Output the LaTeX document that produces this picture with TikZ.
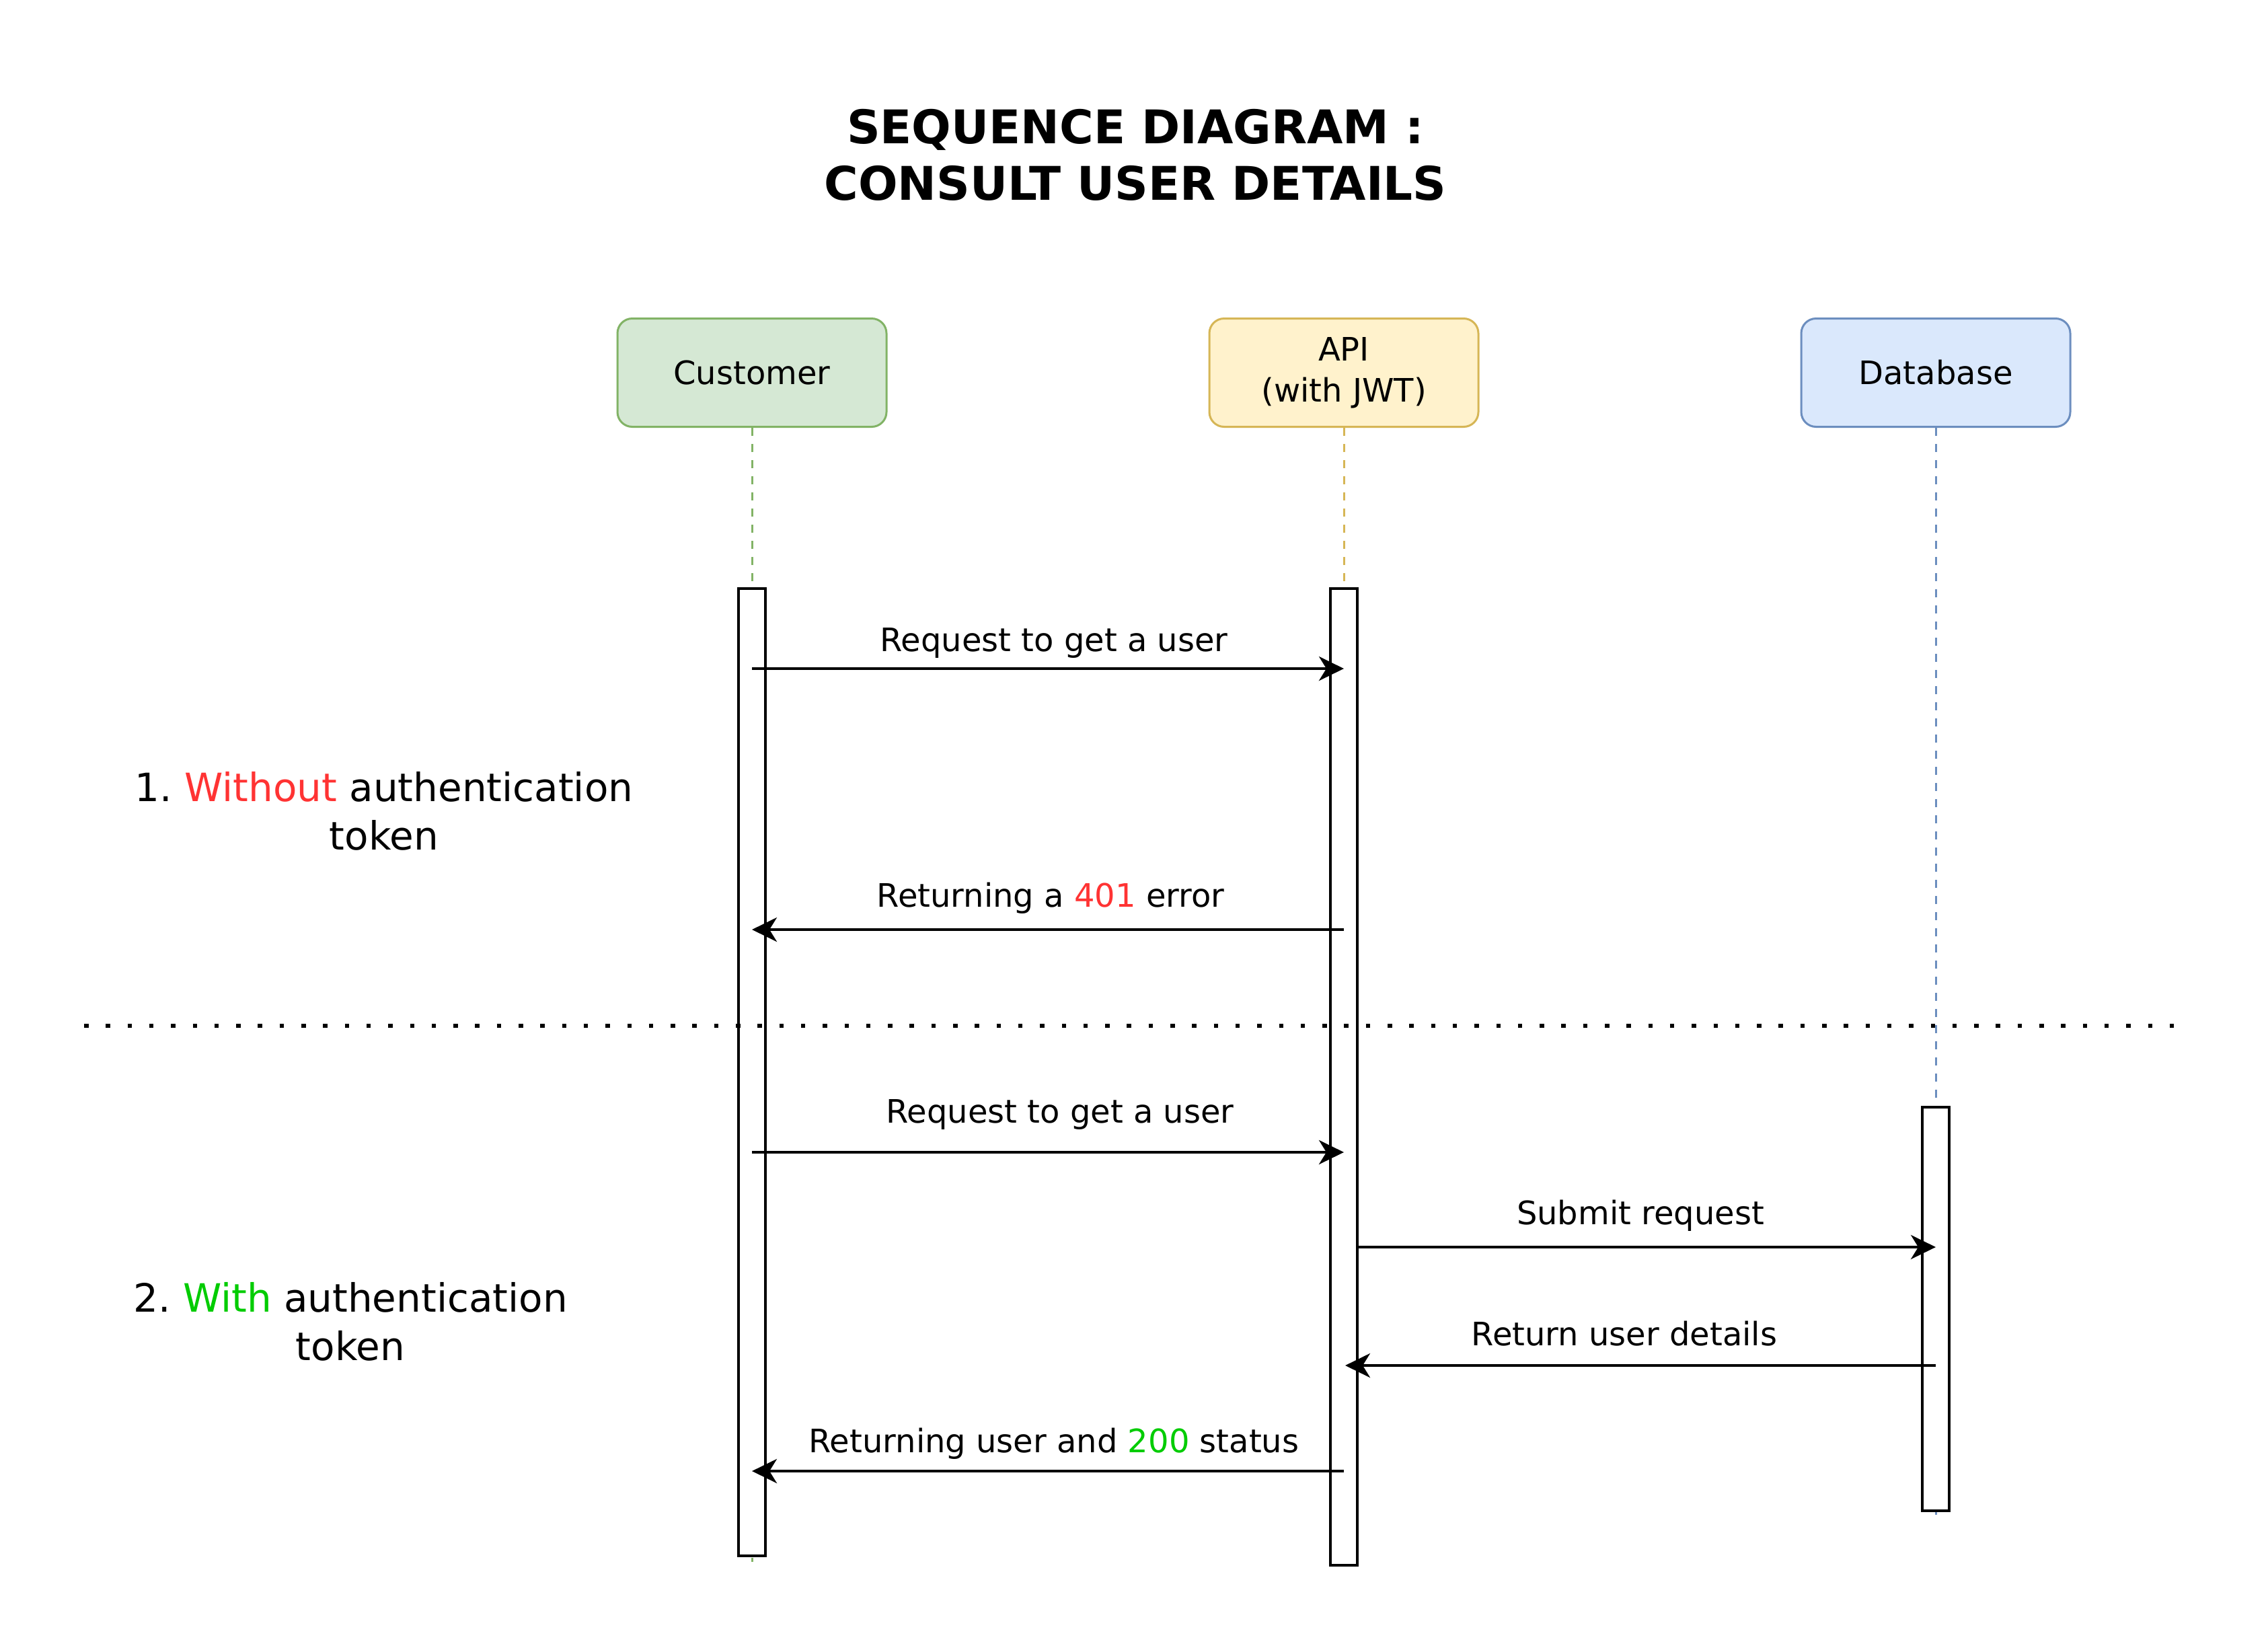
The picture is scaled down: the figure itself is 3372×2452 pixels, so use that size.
\documentclass[tikz,border=0pt]{standalone}
\usepackage{fontspec}
\setmainfont{DejaVu Sans}
\usetikzlibrary{arrows.meta}
\definecolor{grfill}{HTML}{D5E8D4}
\definecolor{grline}{HTML}{82B366}
\definecolor{yefill}{HTML}{FFF2CC}
\definecolor{yeline}{HTML}{D6B656}
\definecolor{blfill}{HTML}{DAE8FC}
\definecolor{blline}{HTML}{6C8EBF}
\definecolor{txred}{HTML}{FF3333}
\definecolor{txgreen}{HTML}{00CC00}
\frenchspacing
\begin{document}
\begin{tikzpicture}[x=1pt,y=-1pt,
  participant/.style={draw, rounded corners=22pt, minimum width=400pt, minimum height=161pt, line width=3pt, inner sep=0pt, align=center, font=\fontsize{48}{61}\selectfont},
  actbar/.style={draw, fill=white, line width=4pt, minimum width=40pt, inner sep=0pt},
  lifeline/.style={line width=3pt, dash pattern=on 12pt off 12pt},
  msg/.style={line width=4pt, -{Stealth[length=37pt,width=36pt,inset=11pt]}},
  msglabel/.style={anchor=base, inner sep=0pt, font=\fontsize{48}{58}\selectfont},
  phase/.style={anchor=north, inner sep=0pt, align=center, font=\fontsize{58}{72}\selectfont},
  titlestyle/.style={anchor=north, inner sep=0pt, align=center, font=\bfseries\fontsize{69}{84}\selectfont},
  separator/.style={line width=6.5pt, dash pattern=on 6.5pt off 25.8pt}
]
\useasboundingbox[fill=white] (0,0) rectangle (3372,2452);

% title
\node[titlestyle] (title) at (1688,162) {SEQUENCE DIAGRAM :\\CONSULT USER DETAILS};

% participants
\node[participant, draw=grline, fill=grfill] (cust) at (1118,554) {Customer};
\node[participant, draw=yeline, fill=yefill] (api) at (1998,554) {API\\(with JWT)};
\node[participant, draw=blline, fill=blfill] (db) at (2878,554) {Database};

% lifeline ends
\coordinate (cend) at (1118,2322);
\coordinate (aend) at (1998,2336);
\coordinate (dend) at (2878,2252);

\draw[lifeline, grline] (cust.south) -- (cend);
\draw[lifeline, yeline] (api.south) -- (aend);
\draw[lifeline, blline] (db.south) -- (dend);

% activation bars
\node[actbar, minimum height=1438pt] (cbar) at (1118,1594) {};
\node[actbar, minimum height=1452pt] (abar) at (1998,1601) {};
\node[actbar, minimum height=600pt] (dbar) at (2878,1946) {};

% separator
\coordinate (sepL) at (125,1525);
\coordinate (sepR) at (3237,1525);
\draw[separator] (sepL) -- (sepR);

% message levels
\coordinate (y1) at (0,994);
\coordinate (y2) at (0,1382);
\coordinate (y3) at (0,1713);
\coordinate (y4) at (0,1854);
\coordinate (y5) at (0,2030);
\coordinate (y6) at (0,2187);

\draw[msg] (cbar.center |- y1) -- (abar.center |- y1);
\draw[msg] (abar.center |- y2) -- (cbar.center |- y2);
\draw[msg] (cbar.center |- y3) -- (abar.center |- y3);
\draw[msg] (abar.east |- y4) -- (dbar.center |- y4);
\draw[msg] (dbar.center |- y5) -- ([xshift=2pt]abar.center |- y5);
\draw[msg] (abar.center |- y6) -- (cbar.center |- y6);

% message labels
\node[msglabel] (l1) at (1567,968) {Request to get a user};
\node[msglabel] (l2) at (1562,1348) {Returning a \textcolor{txred}{401} error};
\node[msglabel] (l3) at (1576,1669) {Request to get a user};
\node[msglabel] (l4) at (2439,1820) {Submit request};
\node[msglabel] (l5) at (2415,2000) {Return user details};
\node[msglabel] (l6) at (1567,2159) {Returning user and \textcolor{txgreen}{200} status};

% phase labels
\node[phase] (p1) at (571,1147) {1. \textcolor{txred}{Without} authentication\\token};
\node[phase] (p2) at (521,1906) {2. \textcolor{txgreen}{With} authentication\\token};
\end{tikzpicture}
\end{document}
